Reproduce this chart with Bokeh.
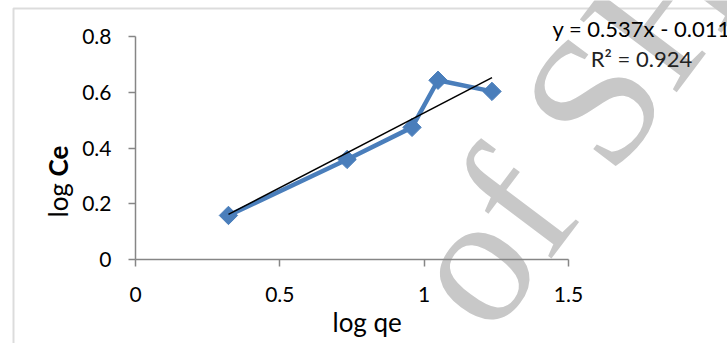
import math
from bokeh.plotting import figure
from bokeh.models import Range1d, FixedTicker, Label, BoxAnnotation
from bokeh.embed import file_html
from bokeh.resources import INLINE

# ---- data ----
log_qe = [0.322, 0.733, 0.958, 1.048, 1.235]
log_ce = [0.158, 0.359, 0.474, 0.643, 0.603]
trend_slope = 0.537
trend_intercept = -0.011
equation_text = "y = 0.537x - 0.011"
r2_text = "R\u00b2 = 0.924"
x_ticks = [0, 0.5, 1, 1.5]
x_tick_labels = ["0", "0.5", "1", "1.5"]
y_ticks = [0, 0.2, 0.4, 0.6, 0.8]
y_tick_labels = ["0", "0.2", "0.4", "0.6", "0.8"]
x_title = "log qe"
y_title_a = "log "
y_title_b = "Ce"
watermark = "of SH"

FONT = "Lato"
BLUE = "#4A7EBB"
W, H = 727, 343

# pixel layout of the plot area inside the page (axis 0 / max positions)
PX_X0, PX_X1 = 135, 568     # x = 0 and x = 1.5
PX_Y0, PX_Y1 = 259, 36      # y = 0 and y = 0.8
X_MAX, Y_MAX = x_ticks[-1], y_ticks[-1]


def dx(wx):
    return (wx - PX_X0) / (PX_X1 - PX_X0) * X_MAX


def dy(wy):
    return (PX_Y0 - wy) / (PX_Y0 - PX_Y1) * Y_MAX


p = figure(width=W, height=H, output_backend="svg", toolbar_location=None,
           x_range=Range1d(dx(0), dx(W)), y_range=Range1d(dy(H), dy(0)),
           min_border=0, min_border_left=0, min_border_right=0,
           min_border_top=0, min_border_bottom=0)
p.outline_line_color = None
p.grid.visible = False
p.background_fill_color = "white"
p.border_fill_color = "white"

# chart-area border (left and top edges visible)
p.add_layout(BoxAnnotation(left=dx(13), top=dy(8), right=dx(W + 50),
                           bottom=dy(H + 50), fill_alpha=0,
                           line_color="#8c8c8c", line_width=2,
                           level="underlay"))

BASE_FIX = 0.3  # em shift so that the anchor sits on the glyph baseline


def label(wx, wy, text, size, angle=0.0, **kw):
    # wx, wy: where the text baseline starts/centres in page pixels
    k = BASE_FIX * size
    wx2 = wx - k * math.sin(angle)
    wy2 = wy - k * math.cos(angle)
    p.add_layout(Label(x=dx(wx2), y=dy(wy2), text=text, angle=angle,
                       text_font_size=f"{size}px",
                       text_baseline="alphabetic", **kw))


# watermark
label(485, 334, watermark, 185, angle=math.radians(53),
      text_font="Liberation Serif", text_color="#c8c8c8", text_align="left",
      level="underlay")

for ax, ticks, labels in ((p.xaxis[0], x_ticks, x_tick_labels),
                          (p.yaxis[0], y_ticks, y_tick_labels)):
    ax.fixed_location = 0
    ax.bounds = (ticks[0], ticks[-1])
    ax.ticker = FixedTicker(ticks=ticks)
    ax.major_label_overrides = {t: l for t, l in zip(ticks, labels)}
    ax.axis_line_color = "#868686"
    ax.axis_line_width = 1.5
    ax.major_tick_line_color = "#868686"
    ax.major_tick_line_width = 1.5
    ax.major_tick_out = 7
    ax.major_tick_in = 0
    ax.minor_tick_out = 0
    ax.minor_tick_in = 0
    ax.major_label_text_font = FONT
    ax.major_label_text_font_size = "21px"
    ax.major_label_text_color = "black"
p.yaxis.major_label_standoff = 17
p.xaxis.major_label_standoff = 20

# series line + markers
p.line(log_qe, log_ce, line_color=BLUE, line_width=4.5)
p.scatter(log_qe, log_ce, marker="square", angle=math.pi / 4, size=13,
          fill_color=BLUE, line_color=BLUE)

# linear trendline
xs = [min(log_qe), max(log_qe)]
ys = [trend_slope * v + trend_intercept for v in xs]
p.line(xs, ys, line_color="black", line_width=1.5)

# axis titles
label(332, 329, x_title, 26, text_font=FONT, text_color="black",
      text_align="left")
label(65, 217, y_title_a, 26, angle=math.pi / 2, text_font=FONT,
      text_color="black", text_align="left")
label(65, 176, y_title_b, 26, angle=math.pi / 2, text_font=FONT,
      text_font_style="bold", text_color="black", text_align="left")

# trendline equation
label(552, 35, equation_text, 22, text_font=FONT, text_color="black",
      text_align="left")
label(641, 65, r2_text, 22, text_font=FONT, text_color="#222222",
      text_align="center")

open("out.html", "w").write(file_html(p, INLINE))
